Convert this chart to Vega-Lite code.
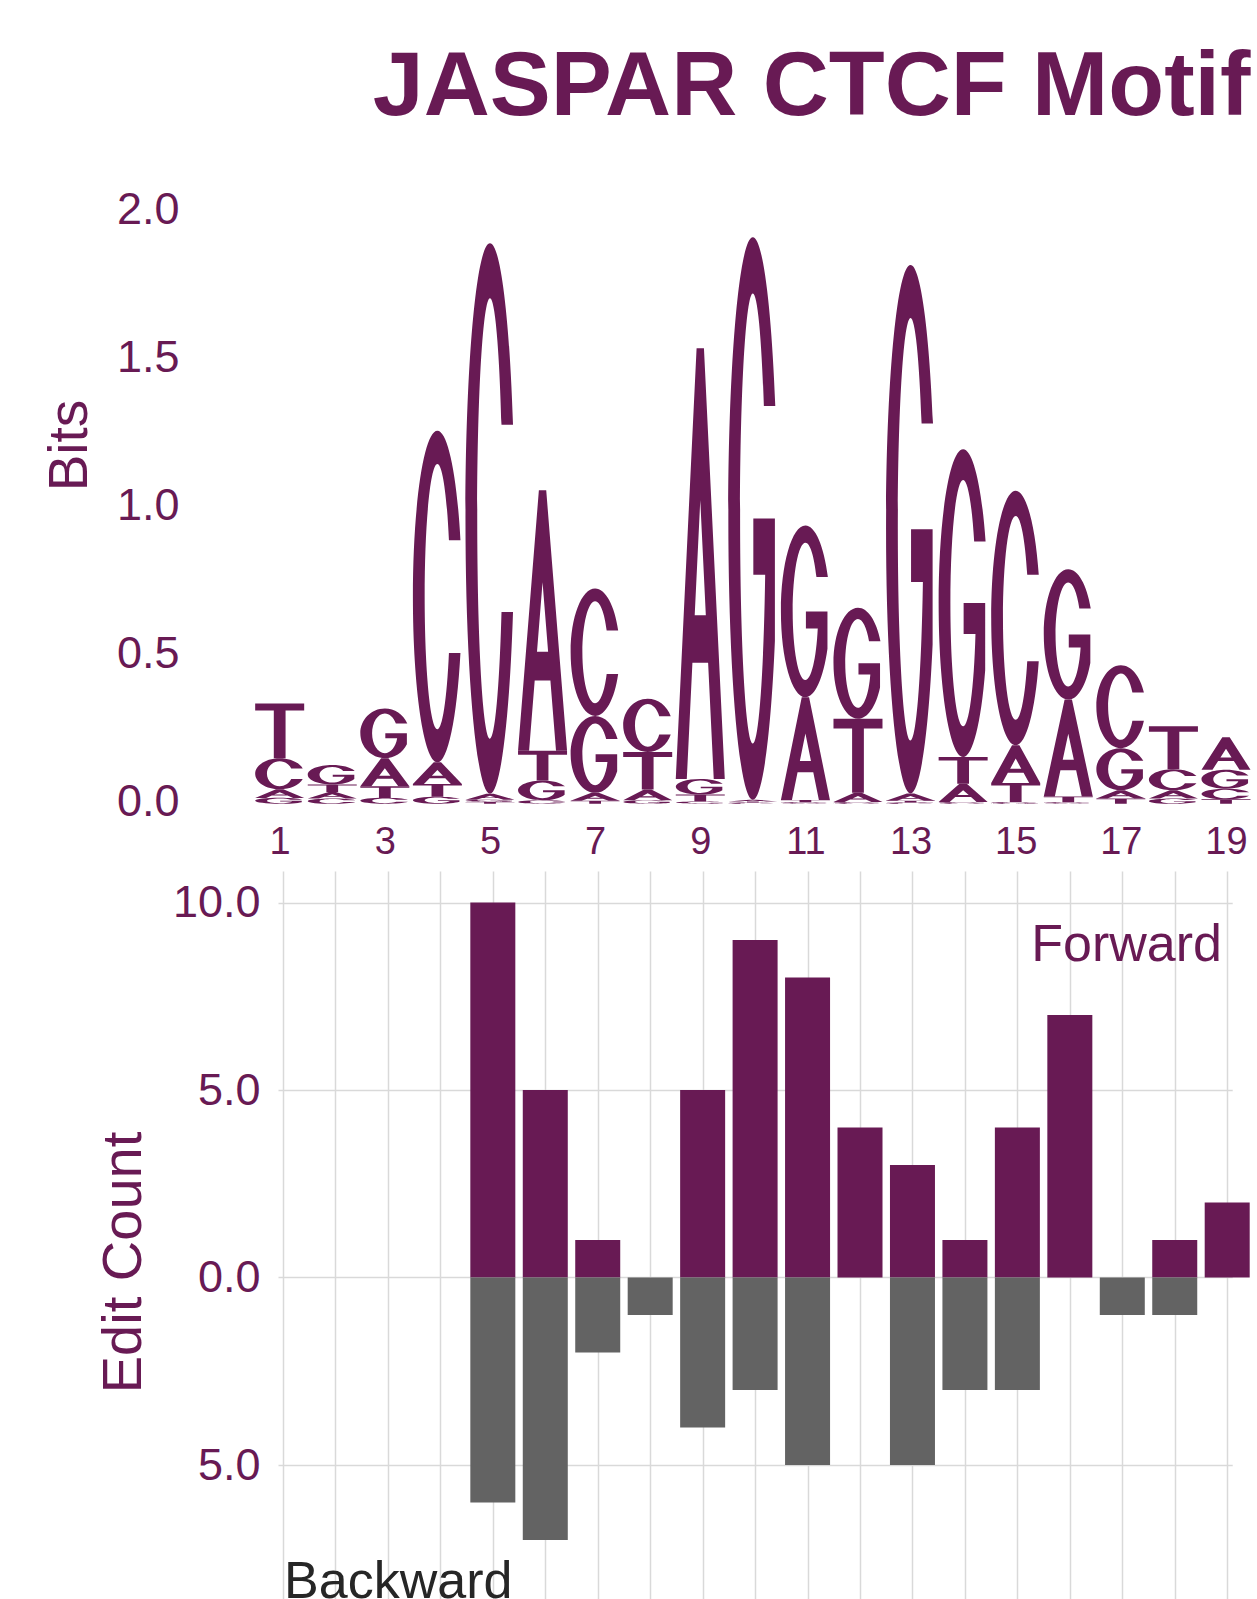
{
  "$schema": "https://vega.github.io/schema/vega-lite/v6.json",
  "background": "white",
  "padding": {"left": 41, "top": 42, "right": 0, "bottom": 0},
  "config": {
    "font": "Liberation Sans",
    "view": {"stroke": null},
    "concat": {"spacing": 9}
  },
  "title": {"text": "JASPAR CTCF Motif", "fontSize": 91.5, "fontWeight": "bold", "color": "#681a54", "anchor": "end", "offset": 53, "font": "Liberation Sans"},
  "datasets": {
    "logo": [
      {"pos": 1, "base": "T", "bits": 0.185}, {"pos": 1, "base": "C", "bits": 0.105}, {"pos": 1, "base": "A", "bits": 0.029}, {"pos": 1, "base": "G", "bits": 0.02},
      {"pos": 2, "base": "G", "bits": 0.066}, {"pos": 2, "base": "T", "bits": 0.025}, {"pos": 2, "base": "A", "bits": 0.022}, {"pos": 2, "base": "C", "bits": 0.018},
      {"pos": 3, "base": "G", "bits": 0.168}, {"pos": 3, "base": "A", "bits": 0.095}, {"pos": 3, "base": "T", "bits": 0.039}, {"pos": 3, "base": "C", "bits": 0.02},
      {"pos": 4, "base": "C", "bits": 1.12}, {"pos": 4, "base": "A", "bits": 0.073}, {"pos": 4, "base": "T", "bits": 0.043}, {"pos": 4, "base": "G", "bits": 0.024},
      {"pos": 5, "base": "C", "bits": 1.86}, {"pos": 5, "base": "A", "bits": 0.02}, {"pos": 5, "base": "G", "bits": 0.008}, {"pos": 5, "base": "T", "bits": 0.006},
      {"pos": 6, "base": "A", "bits": 0.88}, {"pos": 6, "base": "T", "bits": 0.1}, {"pos": 6, "base": "G", "bits": 0.067}, {"pos": 6, "base": "C", "bits": 0.012},
      {"pos": 7, "base": "C", "bits": 0.43}, {"pos": 7, "base": "G", "bits": 0.26}, {"pos": 7, "base": "A", "bits": 0.027}, {"pos": 7, "base": "T", "bits": 0.01},
      {"pos": 8, "base": "C", "bits": 0.18}, {"pos": 8, "base": "T", "bits": 0.127}, {"pos": 8, "base": "A", "bits": 0.036}, {"pos": 8, "base": "G", "bits": 0.012},
      {"pos": 9, "base": "A", "bits": 1.455}, {"pos": 9, "base": "G", "bits": 0.053}, {"pos": 9, "base": "T", "bits": 0.023}, {"pos": 9, "base": "C", "bits": 0.008},
      {"pos": 10, "base": "G", "bits": 1.9}, {"pos": 10, "base": "A", "bits": 0.006}, {"pos": 10, "base": "C", "bits": 0.004}, {"pos": 10, "base": "T", "bits": 0.004},
      {"pos": 11, "base": "G", "bits": 0.58}, {"pos": 11, "base": "A", "bits": 0.347}, {"pos": 11, "base": "T", "bits": 0.008}, {"pos": 11, "base": "C", "bits": 0.005},
      {"pos": 12, "base": "G", "bits": 0.375}, {"pos": 12, "base": "T", "bits": 0.25}, {"pos": 12, "base": "A", "bits": 0.031}, {"pos": 12, "base": "C", "bits": 0.006},
      {"pos": 13, "base": "G", "bits": 1.785}, {"pos": 13, "base": "A", "bits": 0.025}, {"pos": 13, "base": "T", "bits": 0.006}, {"pos": 13, "base": "C", "bits": 0.004},
      {"pos": 14, "base": "G", "bits": 1.04}, {"pos": 14, "base": "T", "bits": 0.09}, {"pos": 14, "base": "A", "bits": 0.062}, {"pos": 14, "base": "C", "bits": 0.006},
      {"pos": 15, "base": "C", "bits": 0.86}, {"pos": 15, "base": "A", "bits": 0.128}, {"pos": 15, "base": "T", "bits": 0.064}, {"pos": 15, "base": "G", "bits": 0.006},
      {"pos": 16, "base": "G", "bits": 0.44}, {"pos": 16, "base": "A", "bits": 0.327}, {"pos": 16, "base": "T", "bits": 0.02}, {"pos": 16, "base": "C", "bits": 0.005},
      {"pos": 17, "base": "C", "bits": 0.28}, {"pos": 17, "base": "G", "bits": 0.142}, {"pos": 17, "base": "A", "bits": 0.028}, {"pos": 17, "base": "T", "bits": 0.018},
      {"pos": 18, "base": "T", "bits": 0.145}, {"pos": 18, "base": "C", "bits": 0.071}, {"pos": 18, "base": "A", "bits": 0.028}, {"pos": 18, "base": "G", "bits": 0.018},
      {"pos": 19, "base": "A", "bits": 0.11}, {"pos": 19, "base": "G", "bits": 0.064}, {"pos": 19, "base": "C", "bits": 0.036}, {"pos": 19, "base": "T", "bits": 0.015}
    ],
    "edits": [
      {"pos": 5, "direction": "Forward", "count": 10}, {"pos": 5, "direction": "Backward", "count": -6},
      {"pos": 6, "direction": "Forward", "count": 5}, {"pos": 6, "direction": "Backward", "count": -7},
      {"pos": 7, "direction": "Forward", "count": 1}, {"pos": 7, "direction": "Backward", "count": -2},
      {"pos": 8, "direction": "Backward", "count": -1},
      {"pos": 9, "direction": "Forward", "count": 5}, {"pos": 9, "direction": "Backward", "count": -4},
      {"pos": 10, "direction": "Forward", "count": 9}, {"pos": 10, "direction": "Backward", "count": -3},
      {"pos": 11, "direction": "Forward", "count": 8}, {"pos": 11, "direction": "Backward", "count": -5},
      {"pos": 12, "direction": "Forward", "count": 4},
      {"pos": 13, "direction": "Forward", "count": 3}, {"pos": 13, "direction": "Backward", "count": -5},
      {"pos": 14, "direction": "Forward", "count": 1}, {"pos": 14, "direction": "Backward", "count": -3},
      {"pos": 15, "direction": "Forward", "count": 4}, {"pos": 15, "direction": "Backward", "count": -3},
      {"pos": 16, "direction": "Forward", "count": 7},
      {"pos": 17, "direction": "Backward", "count": -1},
      {"pos": 18, "direction": "Forward", "count": 1}, {"pos": 18, "direction": "Backward", "count": -1},
      {"pos": 19, "direction": "Forward", "count": 2}
    ]
  },
  "resolve": {"scale": {"x": "independent", "y": "independent"}},
  "vconcat": [
    {
      "width": 948,
      "height": 606.8,
      "data": {"name": "logo"},
      "transform": [
        {"stack": "bits", "groupby": ["pos"], "sort": [{"field": "bits", "order": "ascending"}], "as": ["b0", "b1"]},
        {"calculate": "datum.bits * 296 / 24.5", "as": "h"},
        {"calculate": "datum.base === 'C' ? ('M0.9404,'+(round(-670*datum.h)/1000)+'C0.7972,'+(round(-868*datum.h)/1000)+' 0.4212,'+(round(-1000*datum.h)/1000)+' 0,'+(round(-1000*datum.h)/1000)+'C-0.5523,'+(round(-1000*datum.h)/1000)+' -1,'+(round(-776*datum.h)/1000)+' -1,'+(round(-500*datum.h)/1000)+'C-1,'+(round(-224*datum.h)/1000)+' -0.5523,0 0,0C0.4212,0 0.7972,'+(round(-132*datum.h)/1000)+' 0.9404,'+(round(-330*datum.h)/1000)+'L0.4707,'+(round(-330*datum.h)/1000)+'C0.385,'+(round(-190*datum.h)/1000)+' 0.2016,'+(round(-100*datum.h)/1000)+' 0,'+(round(-100*datum.h)/1000)+'C-0.2872,'+(round(-100*datum.h)/1000)+' -0.52,'+(round(-279*datum.h)/1000)+' -0.52,'+(round(-500*datum.h)/1000)+'C-0.52,'+(round(-721*datum.h)/1000)+' -0.2872,'+(round(-900*datum.h)/1000)+' 0,'+(round(-900*datum.h)/1000)+'C0.2016,'+(round(-900*datum.h)/1000)+' 0.385,'+(round(-810*datum.h)/1000)+' 0.4707,'+(round(-670*datum.h)/1000)+'Z') : datum.base === 'G' ? ('M0.9165,'+(round(-700*datum.h)/1000)+'C0.7575,'+(round(-882*datum.h)/1000)+' 0.3976,'+(round(-1000*datum.h)/1000)+' 0,'+(round(-1000*datum.h)/1000)+'C-0.5523,'+(round(-1000*datum.h)/1000)+' -1,'+(round(-776*datum.h)/1000)+' -1,'+(round(-500*datum.h)/1000)+'C-1,'+(round(-224*datum.h)/1000)+' -0.5523,0 0,0C0.3834,0 0.7329,'+(round(-110*datum.h)/1000)+' 0.9,'+(round(-282*datum.h)/1000)+'L0.9,'+(round(-500*datum.h)/1000)+'L0.02,'+(round(-500*datum.h)/1000)+'L0.02,'+(round(-400*datum.h)/1000)+'L0.5035,'+(round(-400*datum.h)/1000)+'C0.4442,'+(round(-223*datum.h)/1000)+' 0.2371,'+(round(-100*datum.h)/1000)+' 0,'+(round(-100*datum.h)/1000)+'C-0.2872,'+(round(-100*datum.h)/1000)+' -0.52,'+(round(-279*datum.h)/1000)+' -0.52,'+(round(-500*datum.h)/1000)+'C-0.52,'+(round(-721*datum.h)/1000)+' -0.2872,'+(round(-900*datum.h)/1000)+' 0,'+(round(-900*datum.h)/1000)+'C0.1858,'+(round(-900*datum.h)/1000)+' 0.3574,'+(round(-824*datum.h)/1000)+' 0.4503,'+(round(-700*datum.h)/1000)+'Z') : datum.base === 'A' ? ('M-0.15,'+(round(-1000*datum.h)/1000)+'L0.15,'+(round(-1000*datum.h)/1000)+'L1,0L0.55,0L0.3205,'+(round(-270*datum.h)/1000)+'L-0.3205,'+(round(-270*datum.h)/1000)+'L-0.55,0L-1,0ZM0,'+(round(-647*datum.h)/1000)+'L-0.227,'+(round(-380*datum.h)/1000)+'L0.227,'+(round(-380*datum.h)/1000)+'Z') : ('M-1,'+(round(-1000*datum.h)/1000)+'L1,'+(round(-1000*datum.h)/1000)+'L1,'+(round(-870*datum.h)/1000)+'L0.24,'+(round(-870*datum.h)/1000)+'L0.24,0L-0.24,0L-0.24,'+(round(-870*datum.h)/1000)+'L-1,'+(round(-870*datum.h)/1000)+'Z')", "as": "glyph"}
      ],
      "mark": {"type": "point", "filled": true, "opacity": 1, "strokeWidth": 0, "size": 2401, "color": "#681a54"},
      "encoding": {
        "x": {
          "field": "pos", "type": "quantitative",
          "scale": {"domain": [0.968, 19], "nice": false, "zero": false},
          "axis": {"values": [1, 3, 5, 7, 9, 11, 13, 15, 17, 19], "format": "d", "labelFontSize": 38, "labelColor": "#681a54", "labelFlush": false, "labelOverlap": false, "domain": false, "ticks": false, "grid": false, "labelPadding": 20, "title": null}
        },
        "y": {
          "field": "b0", "type": "quantitative",
          "scale": {"domain": [0, 2.05], "nice": false, "zero": true},
          "axis": {"values": [0, 0.5, 1, 1.5, 2], "format": ".1f", "labelFontSize": 45, "labelColor": "#681a54", "labelFlush": false, "domain": false, "ticks": false, "grid": false, "labelPadding": 99, "labelOffset": -2, "title": "Bits", "titleFontSize": 55, "titleFontWeight": "normal", "titleColor": "#681a54", "titleX": -192, "titleY": 248, "titleAngle": -90, "titleBaseline": "alphabetic", "titleAlign": "center"}
        },
        "shape": {"field": "glyph", "type": "nominal", "scale": null}
      }
    },
    {
      "width": 954.2,
      "height": 783,
      "data": {"name": "edits"},
      "encoding": {
        "x": {
          "field": "pos", "type": "quantitative",
          "scale": {"domain": [1, 19], "nice": false, "zero": false},
          "axis": {"values": [1, 2, 3, 4, 5, 6, 7, 8, 9, 10, 11, 12, 13, 14, 15, 16, 17, 18, 19], "labels": false, "ticks": false, "domain": false, "grid": true, "gridColor": "#d9d9d9", "gridWidth": 1.5, "title": null}
        },
        "y": {
          "field": "count", "type": "quantitative", "stack": null,
          "scale": {"domain": [-10.04, 10.84], "nice": false, "zero": true},
          "axis": {"values": [-5, 0, 5, 10], "labelExpr": "format(abs(datum.value), '.1f')", "labelFontSize": 45, "labelColor": "#681a54", "labelFlush": false, "domain": false, "ticks": false, "grid": true, "gridColor": "#d9d9d9", "gridWidth": 1.5, "labelPadding": 18, "title": "Edit Count", "titleFontSize": 56, "titleFontWeight": "normal", "titleColor": "#681a54", "titleX": -138, "titleY": 391, "titleAngle": -90, "titleBaseline": "alphabetic", "titleAlign": "center"}
        }
      },
      "layer": [
        {
          "mark": {"type": "bar", "width": 45},
          "encoding": {
            "color": {"field": "direction", "type": "nominal", "scale": {"domain": ["Forward", "Backward"], "range": ["#681a54", "#636363"]}, "legend": null}
          }
        },
        {
          "data": {"values": [{"label": "Forward", "pos": 18.9, "count": 8.445}]},
          "mark": {"type": "text", "align": "right", "baseline": "alphabetic", "fontSize": 52, "color": "#681a54"},
          "encoding": {
            "text": {"field": "label"}
          }
        },
        {
          "data": {"values": [{"label": "Backward", "pos": 1.02, "count": -8.55}]},
          "mark": {"type": "text", "align": "left", "baseline": "alphabetic", "fontSize": 52, "color": "#262626"},
          "encoding": {
            "text": {"field": "label"}
          }
        }
      ]
    }
  ]
}
